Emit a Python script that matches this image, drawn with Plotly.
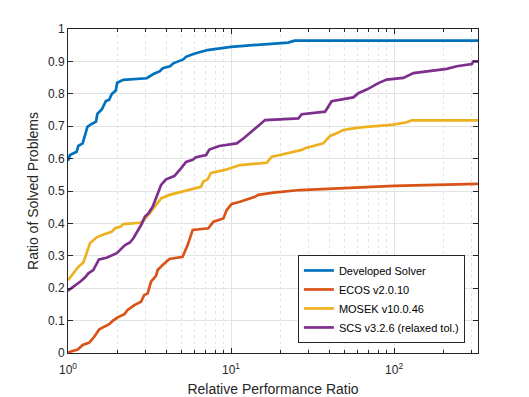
import numpy as np
import plotly.graph_objects as go

# log10 of the performance ratio and the fraction solved
dev_logr = [0, 0.012, 0.053, 0.063, 0.09, 0.119, 0.145, 0.172, 0.18, 0.207, 0.233, 0.252,
            0.268, 0.293, 0.302, 0.339, 0.483, 0.524, 0.564, 0.581, 0.626, 0.646, 0.707,
            0.724, 0.769, 0.83, 0.855, 1.0, 1.2, 1.35, 1.39, 2.515]
dev_val = [0.593, 0.611, 0.621, 0.639, 0.647, 0.698, 0.707, 0.714, 0.738, 0.752, 0.778, 0.781,
           0.799, 0.81, 0.834, 0.843, 0.848, 0.861, 0.87, 0.879, 0.885, 0.894, 0.906,
           0.914, 0.923, 0.93, 0.935, 0.945, 0.953, 0.958, 0.964, 0.964]

ecos_logr = [0, 0.06, 0.09, 0.131, 0.161, 0.192, 0.253, 0.274, 0.305, 0.346, 0.366, 0.407,
             0.448, 0.468, 0.489, 0.509, 0.54, 0.55, 0.581, 0.622, 0.703, 0.734, 0.765,
             0.861, 0.892, 0.953, 0.973, 1.004, 1.055, 1.086, 1.147, 1.167, 1.26, 1.423,
             1.73, 2.0, 2.515]
ecos_val = [0.002, 0.011, 0.025, 0.032, 0.05, 0.073, 0.089, 0.099, 0.11, 0.12, 0.133, 0.148,
            0.158, 0.179, 0.184, 0.22, 0.238, 0.256, 0.272, 0.29, 0.297, 0.333, 0.38,
            0.385, 0.405, 0.415, 0.441, 0.46, 0.467, 0.472, 0.482, 0.488, 0.495, 0.503,
            0.51, 0.516, 0.522]

mosek_logr = [0, 0.023, 0.063, 0.094, 0.11, 0.135, 0.176, 0.217, 0.268, 0.288, 0.323, 0.339,
              0.442, 0.462, 0.493, 0.524, 0.544, 0.571, 0.622, 0.714, 0.765, 0.816, 0.83,
              0.857, 0.877, 0.963, 1.055, 1.219, 1.25, 1.30, 1.434, 1.454, 1.566, 1.607,
              1.648, 1.689, 1.73, 1.812, 1.996, 2.078, 2.108, 2.515]
mosek_val = [0.225, 0.241, 0.266, 0.279, 0.302, 0.339, 0.357, 0.366, 0.374, 0.385, 0.39, 0.398,
             0.402, 0.408, 0.426, 0.446, 0.462, 0.477, 0.488, 0.501, 0.508, 0.513, 0.529,
             0.536, 0.556, 0.565, 0.58, 0.587, 0.606, 0.611, 0.627, 0.632, 0.647, 0.67,
             0.678, 0.688, 0.692, 0.697, 0.705, 0.712, 0.718, 0.718]

scs_logr = [0, 0.043, 0.074, 0.104, 0.125, 0.155, 0.19, 0.237, 0.299, 0.35, 0.38, 0.401,
            0.431, 0.452, 0.472, 0.493, 0.52, 0.54, 0.571, 0.601, 0.652, 0.693, 0.724,
            0.765, 0.785, 0.847, 0.867, 0.928, 1.035, 1.076, 1.137, 1.209, 1.413, 1.434,
            1.577, 1.607, 1.617, 1.75, 1.781, 1.832, 1.904, 1.955, 2.057, 2.119, 2.221,
            2.323, 2.385, 2.477, 2.487, 2.515]
scs_val = [0.192, 0.207, 0.22, 0.233, 0.246, 0.256, 0.289, 0.294, 0.308, 0.333, 0.341, 0.354,
           0.38, 0.398, 0.421, 0.431, 0.452, 0.477, 0.519, 0.536, 0.546, 0.57, 0.59,
           0.596, 0.604, 0.611, 0.628, 0.639, 0.647, 0.662, 0.688, 0.719, 0.724, 0.737,
           0.745, 0.772, 0.777, 0.789, 0.802, 0.813, 0.833, 0.844, 0.849, 0.864, 0.871,
           0.877, 0.885, 0.892, 0.9, 0.9]

series = [
    ("Developed Solver", dev_logr, dev_val, "#0072BD"),
    ("ECOS v2.0.10", ecos_logr, ecos_val, "#D95319"),
    ("MOSEK v10.0.46", mosek_logr, mosek_val, "#EDB120"),
    ("SCS v3.2.6 (relaxed tol.)", scs_logr, scs_val, "#7E2F8E"),
]

x_major = [1, 10, 100]
x_major_text = ["10<sup>0</sup>", "10<sup>1</sup>", "10<sup>2</sup>"]
x_minor = [2, 3, 4, 5, 6, 7, 8, 9, 20, 30, 40, 50, 60, 70, 80, 90, 200, 300]
y_ticks = [0, 0.1, 0.2, 0.3, 0.4, 0.5, 0.6, 0.7, 0.8, 0.9, 1]
y_text = ["0", "0.1", "0.2", "0.3", "0.4", "0.5", "0.6", "0.7", "0.8", "0.9", "1"]

FONT = "Liberation Sans, Arial, sans-serif"
AX = "#262626"

fig = go.Figure()
for name, lr, v, c in series:
    fig.add_trace(go.Scatter(
        x=10 ** np.array(lr), y=v, name=name, mode="lines",
        line=dict(color=c, width=2.7),
    ))

fig.update_layout(
    width=529, height=397,
    margin=dict(l=68, r=51, t=29, b=44, autoexpand=False),
    paper_bgcolor="white", plot_bgcolor="white",
    font=dict(family=FONT, size=12, color=AX),
    showlegend=True,
    legend=dict(
        x=0.968, y=0.031, xanchor="right", yanchor="bottom",
        bordercolor=AX, borderwidth=1, bgcolor="white",
        font=dict(size=11, color="black"),
        tracegroupgap=0, itemwidth=30,
    ),
)
fig.update_xaxes(
    type="log", range=[0, 2.515],
    tickvals=x_major, ticktext=x_major_text,
    ticks="inside", ticklen=5, tickcolor=AX,
    showline=True, linecolor=AX, linewidth=1, mirror="ticks",
    showgrid=True, gridcolor="#E3E3E3", gridwidth=1,
    minor=dict(tickvals=x_minor, ticks="inside", ticklen=3, tickcolor=AX,
               showgrid=True, gridcolor="#E4E4E4", griddash="dot", gridwidth=1),
    zeroline=False, automargin=True, ticklabelstandoff=6,
    title=dict(text="Relative Performance Ratio", font=dict(size=14, color=AX), standoff=8),
    tickfont=dict(size=12, color=AX),
)
fig.update_yaxes(
    range=[0, 1], tickvals=y_ticks, ticktext=y_text,
    ticks="inside", ticklen=5, tickcolor=AX,
    showline=True, linecolor=AX, linewidth=1, mirror="ticks",
    showgrid=True, gridcolor="#E3E3E3", gridwidth=1,
    zeroline=False, automargin=False,
    title=dict(text="Ratio of Solved Problems", font=dict(size=14, color=AX), standoff=6),
    tickfont=dict(size=12, color=AX),
)

# the page's default body margin would shift the figure by 8px
fig.write_html("out.html", config={"displayModeBar": False},
               post_script="document.body.style.margin='0';")
